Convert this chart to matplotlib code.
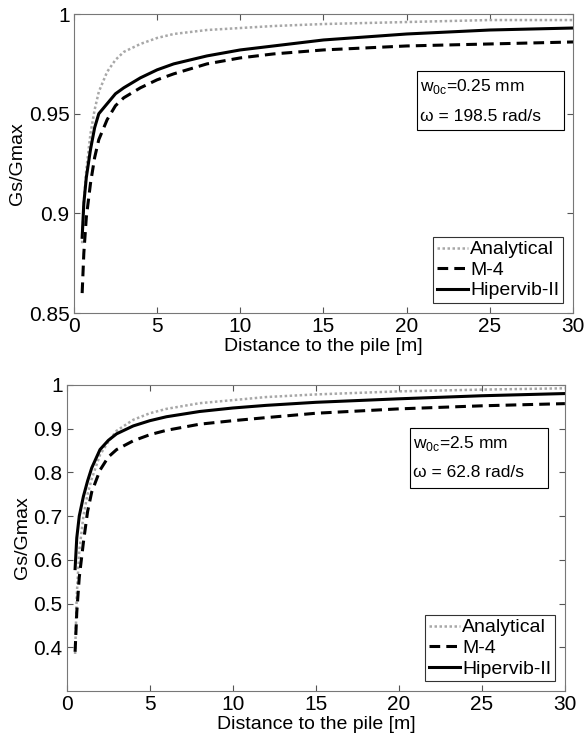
import numpy as np
import matplotlib
matplotlib.use('Agg')
import matplotlib.pyplot as plt
from matplotlib.patches import Rectangle

plt.rcParams['font.family'] = ['Liberation Sans', 'DejaVu Sans']
plt.rcParams['mathtext.fontset'] = 'custom'
plt.rcParams['mathtext.rm'] = 'Liberation Sans'

# distance to the pile [m]
dist = [0.5, 0.6, 0.75, 1, 1.25, 1.5, 2, 2.5, 3, 4, 5, 6, 8, 10, 12, 15, 20, 25, 30]

# case 1: w0c = 0.25 mm, omega = 198.5 rad/s
top_analytical = [0.885, 0.905, 0.922, 0.940, 0.952, 0.961, 0.971, 0.977, 0.981, 0.985, 0.988, 0.990,
                  0.992, 0.993, 0.994, 0.995, 0.996, 0.997, 0.997]
top_m4 = [0.860, 0.880, 0.898, 0.915, 0.928, 0.937, 0.947, 0.954, 0.958, 0.963, 0.967, 0.970,
          0.975, 0.978, 0.980, 0.982, 0.984, 0.985, 0.986]
top_hipervib = [0.888, 0.905, 0.918, 0.932, 0.943, 0.950, 0.955, 0.960, 0.963, 0.968, 0.972, 0.975,
                0.979, 0.982, 0.984, 0.987, 0.990, 0.992, 0.993]

# case 2: w0c = 2.5 mm, omega = 62.8 rad/s
bot_analytical = [0.385, 0.52, 0.62, 0.70, 0.75, 0.785, 0.84, 0.87, 0.895, 0.92, 0.935, 0.945,
                  0.958, 0.965, 0.972, 0.978, 0.985, 0.989, 0.992]
bot_m4 = [0.39, 0.48, 0.56, 0.64, 0.71, 0.755, 0.805, 0.835, 0.852, 0.872, 0.886, 0.896,
          0.91, 0.918, 0.925, 0.935, 0.945, 0.952, 0.957]
bot_hipervib = [0.58, 0.65, 0.70, 0.745, 0.78, 0.81, 0.852, 0.873, 0.888, 0.906, 0.918, 0.927,
                0.939, 0.947, 0.953, 0.96, 0.968, 0.975, 0.98]

top_yticks = [0.85, 0.9, 0.95, 1]
top_yticklabels = ['0.85', '0.9', '0.95', '1']
bot_yticks = [0.4, 0.5, 0.6, 0.7, 0.8, 0.9, 1]
bot_yticklabels = ['0.4', '0.5', '0.6', '0.7', '0.8', '0.9', '1']
xticks = [0, 5, 10, 15, 20, 25, 30]

top_note = ['w$_{\\mathregular{0c}}$=0.25 mm', '\u03c9 = 198.5 rad/s']
bot_note = ['w$_{\\mathregular{0c}}$=2.5 mm', '\u03c9 = 62.8 rad/s']

fig = plt.figure(figsize=(5.86, 7.4), dpi=100)
ax1 = fig.add_axes([0.126, 0.577, 0.852, 0.404])
ax2 = fig.add_axes([0.114, 0.066, 0.850, 0.414])

# (axes, series..., ylim, ticks, labels, note, note box [x0, y0, w, h], text line y's)
panels = [
    (ax1, top_analytical, top_m4, top_hipervib, (0.85, 1), top_yticks, top_yticklabels,
     top_note, (0.687, 0.612, 0.295, 0.197), (0.758, 0.658)),
    (ax2, bot_analytical, bot_m4, bot_hipervib, (0.3, 1), bot_yticks, bot_yticklabels,
     bot_note, (0.689, 0.663, 0.277, 0.196), (0.810, 0.715)),
]

for ax, ana, m4, hip, ylim, yt, ytl, note, box, ty in panels:
    ax.plot(dist, ana, color='#a8a8a8', linestyle=(0, (1, 1)), linewidth=1.8, label='Analytical')
    ax.plot(dist, m4, color='black', linestyle=(0, (3.5, 2)), linewidth=2.2, label='M-4')
    ax.plot(dist, hip, color='black', linestyle='-', linewidth=2.2, label='Hipervib-II')
    ax.set_xlim(0, 30)
    ax.set_ylim(*ylim)
    ax.set_xticks(xticks)
    ax.set_yticks(yt)
    ax.set_yticklabels(ytl)
    ax.tick_params(direction='in', top=True, right=True, labelsize=15, length=4,
                   color='#555555', pad=3)
    for s in ax.spines.values():
        s.set_color('#777777')
    ax.set_xlabel('Distance to the pile [m]', fontsize=14, labelpad=1)
    ax.set_ylabel('Gs/Gmax', fontsize=14, labelpad=2)
    leg = ax.legend(loc='lower right', fontsize=14, handlelength=1.6, handletextpad=0.1,
                    borderpad=0.2, labelspacing=0.15, fancybox=False, borderaxespad=0.5)
    leg.get_frame().set_edgecolor('black')
    leg.get_frame().set_linewidth(0.8)
    ax.add_patch(Rectangle((box[0], box[1]), box[2], box[3], transform=ax.transAxes,
                           facecolor='white', edgecolor='black', linewidth=0.8, zorder=4))
    for line, y in zip(note, ty):
        ax.text(box[0] + 0.007, y, line, transform=ax.transAxes, fontsize=12.5,
                va='center', ha='left', zorder=5)

fig.savefig('out.png', dpi=100)
